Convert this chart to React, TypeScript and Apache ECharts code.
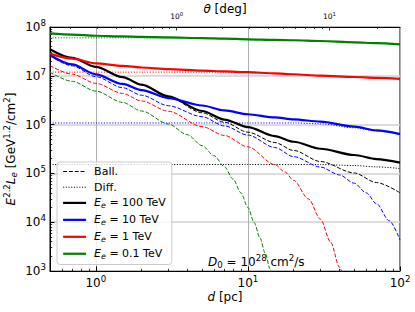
import React, { useEffect, useRef } from "react";
import * as echarts from "echarts";

// ---------- data ----------
// distances d [pc]
const D_PC = [0.5, 0.7, 1, 1.5, 2, 3, 5, 7, 10, 15, 20, 30, 50, 70, 100];

// total (solid lines)
const TOTAL_100TEV = [3.51e7, 2.32e7, 1.53e7, 9.4e6, 6.6e6, 3.8e6, 1.9e6, 1.27e6, 8.9e5, 5.8e5, 4.45e5, 3.2e5, 2.38e5, 1.97e5, 1.66e5];
const TOTAL_10TEV = [2.67e7, 1.71e7, 1.07e7, 6.8e6, 5.1e6, 3.5e6, 2.46e6, 1.95e6, 1.63e6, 1.4e6, 1.28e6, 1.15e6, 9.1e5, 7.6e5, 6.4e5];
const TOTAL_1TEV = [2.85e7, 2.25e7, 1.8e7, 1.6e7, 1.48e7, 1.37e7, 1.28e7, 1.23e7, 1.185e7, 1.125e7, 1.075e7, 1.005e7, 9.45e6, 9.05e6, 8.65e6];
const TOTAL_01TEV = [7.4e7, 7.0e7, 6.62e7, 6.4e7, 6.28e7, 6.12e7, 5.92e7, 5.77e7, 5.6e7, 5.45e7, 5.35e7, 5.17e7, 4.86e7, 4.66e7, 4.42e7];

// diffusive (dotted lines)
const DIFF_100TEV = [1.52e5, 1.52e5, 1.52e5, 1.52e5, 1.52e5, 1.52e5, 1.52e5, 1.52e5, 1.52e5, 1.52e5, 1.52e5, 1.52e5, 1.45e5, 1.36e5, 1.26e5];
const DIFF_10TEV = [1.08e6, 1.08e6, 1.08e6, 1.08e6, 1.08e6, 1.08e6, 1.08e6, 1.08e6, 1.08e6, 1.08e6, 1.08e6, 1.04e6, 8.6e5, 7.4e5, 6.35e5];
const DIFF_1TEV = [1.19e7, 1.19e7, 1.19e7, 1.19e7, 1.19e7, 1.19e7, 1.19e7, 1.19e7, 1.16e7, 1.11e7, 1.065e7, 1.0e7, 9.4e6, 9.0e6, 8.6e6];
const DIFF_01TEV = [6.0e7, 6.0e7, 6.0e7, 6.0e7, 6.0e7, 5.98e7, 5.88e7, 5.75e7, 5.58e7, 5.44e7, 5.34e7, 5.16e7, 4.85e7, 4.65e7, 4.41e7];

// ballistic (dashed lines)
const BALL_100TEV = [3.5e7, 2.3e7, 1.51e7, 9.25e6, 6.45e6, 3.65e6, 1.75e6, 1.12e6, 7.0e5, 4.3e5, 2.95e5, 1.75e5, 1.02e5, 6.5e4, 4.0e4];
const BALL_10TEV_D = [0.5, 0.7, 1, 1.5, 2, 3, 5, 7, 10, 15, 20, 30, 40, 50, 60, 70, 85, 100];
const BALL_10TEV = [2.56e7, 1.6e7, 9.6e6, 5.7e6, 4.0e6, 2.43e6, 1.45e6, 9.4e5, 6.1e5, 3.4e5, 2.2e5, 1.35e5, 9.3e4, 6.3e4, 4.0e4, 2.4e4, 1.07e4, 4.3e3];
const BALL_1TEV_D = [0.5, 0.7, 1, 1.5, 2, 3, 5, 7, 10, 15, 17.5, 20, 25, 30, 35, 40, 45];
const BALL_1TEV = [1.61e7, 1.08e7, 7.0e6, 4.36e6, 3.05e6, 1.88e6, 9.1e5, 6.0e5, 3.5e5, 1.52e5, 1.07e5, 7.2e4, 3.0e4, 1.15e4, 3.9e3, 1.2e3, 3.6e2];
const BALL_01TEV_D = [0.5, 0.7, 1, 1.5, 2, 3, 4, 5, 6, 7, 8, 9, 10, 11, 12, 13, 14, 15];
const BALL_01TEV = [1.18e7, 7.7e6, 4.86e6, 2.85e6, 1.9e6, 1.03e6, 6.2e5, 3.7e5, 2.3e5, 1.38e5, 7.6e4, 4.0e4, 2.0e4, 9.8e3, 4.8e3, 2.3e3, 1.1e3, 5.2e2];

// axis ticks
const X_MAJOR = [1, 10, 100];
const X_MINOR = [0.5, 0.6, 0.7, 0.8, 0.9, 2, 3, 4, 5, 6, 7, 8, 9, 20, 30, 40, 50, 60, 70, 80, 90];
const Y_MINOR_MANT = [2, 3, 4, 5, 6, 7, 8, 9];
const THETA_MAJOR = [1, 10];
const THETA_MINOR = [0.2, 0.3, 0.4, 0.5, 0.6, 0.7, 0.8, 0.9, 2, 3, 4, 5, 6, 7, 8, 9, 20];
const SOURCE_DIST_PC = 195;

const COLORS = { e100: "#000000", e10: "#0000ff", e1: "#ff0000", e01: "#008000" };

// ---------- helpers ----------
const LOG = (v: number) => Math.log10(v);
const X_MIN = LOG(0.5);
const X_MAX = LOG(100);
const FONT = "DejaVu Sans";
const thetaToD = (t: number) => SOURCE_DIST_PC * Math.tan((t * Math.PI) / 180);
const dToTheta = (d: number) => (Math.atan(d / SOURCE_DIST_PC) * 180) / Math.PI;

function richSet(size: number) {
  const s = size * 0.72;
  const base = { fontFamily: FONT, color: "#000" };
  return {
    n: { ...base, fontSize: size },
    nl: { ...base, fontSize: size, padding: [0, 0, 0, 3] },
    i: { ...base, fontSize: size, fontStyle: "italic" },
    il: { ...base, fontSize: size, fontStyle: "italic", padding: [0, 0, 0, 3] },
    sup: { ...base, fontSize: s, padding: [0, 0, size * 0.7, 0] },
    sub: { ...base, fontSize: s, padding: [size * 0.5, 0, 0, 0] },
    subi: { ...base, fontSize: s, fontStyle: "italic", padding: [size * 0.5, 0, 0, 0] },
  };
}

const pts = (xs: number[], ys: number[]) => xs.map((d, i) => [LOG(d), LOG(ys[i])]);

export default function App() {
  const ref = useRef<HTMLDivElement>(null);
  useEffect(() => {
    if (!ref.current) return;
    const chart = echarts.init(ref.current, null, { renderer: "svg" });

    const yMinor: number[] = [];
    for (let e = 3; e < 8; e++) for (const m of Y_MINOR_MANT) yMinor.push(LOG(m * Math.pow(10, e)));

    const tickRich = richSet(12);
    const topRich = richSet(7.5);
    const legRich = richSet(11);

    const energies = [
      { key: "E100", label: "100", color: COLORS.e100, total: pts(D_PC, TOTAL_100TEV), diff: pts(D_PC, DIFF_100TEV), ball: pts(D_PC, BALL_100TEV) },
      { key: "E10", label: "10", color: COLORS.e10, total: pts(D_PC, TOTAL_10TEV), diff: pts(D_PC, DIFF_10TEV), ball: pts(BALL_10TEV_D, BALL_10TEV) },
      { key: "E1", label: "1", color: COLORS.e1, total: pts(D_PC, TOTAL_1TEV), diff: pts(D_PC, DIFF_1TEV), ball: pts(BALL_1TEV_D, BALL_1TEV) },
      { key: "E01", label: "0.1", color: COLORS.e01, total: pts(D_PC, TOTAL_01TEV), diff: pts(D_PC, DIFF_01TEV), ball: pts(BALL_01TEV_D, BALL_01TEV) },
    ];

    const DASH = [4, 1.8];
    const DOT = [1.1, 1.6];
    const series: any[] = [
      { type: "line", name: "Ball.", data: [], symbol: "none", color: "#000", lineStyle: { color: "#000", width: 1, type: DASH } },
      { type: "line", name: "Diff.", data: [], symbol: "none", color: "#000", lineStyle: { color: "#000", width: 1, type: DOT } },
    ];
    energies.forEach((e) => {
      series.push({ type: "line", name: e.key + "-ball", data: e.ball, symbol: "none", smooth: 0.3, smoothMonotone: "x", color: e.color, lineStyle: { color: e.color, width: 1, type: DASH }, z: 2 });
      series.push({ type: "line", name: e.key + "-diff", data: e.diff, symbol: "none", smooth: 0.3, smoothMonotone: "x", color: e.color, lineStyle: { color: e.color, width: 1, type: DOT }, z: 2 });
    });
    energies.forEach((e) => {
      series.push({ type: "line", name: e.key, data: e.total, symbol: "none", smooth: 0.3, smoothMonotone: "x", color: e.color, lineStyle: { color: e.color, width: 2.2 }, z: 3 });
    });

    const legendNames: Record<string, string> = { "Ball.": "{nl|Ball.}", "Diff.": "{nl|Diff.}" };
    energies.forEach((e) => {
      legendNames[e.key] = `{il|E}{subi|e}{n| = ${e.label} TeV}`;
    });

    const thetaMajD = THETA_MAJOR.map((t) => LOG(thetaToD(t)));
    const thetaMinD = THETA_MINOR.map((t) => LOG(thetaToD(t)));
    const noZero = { onZero: false };

    const option: any = {
      animation: false,
      grid: { left: 50, right: 15, top: 27, bottom: 41, show: true, borderColor: "#000", borderWidth: 1, backgroundColor: "transparent" },
      xAxis: [
        {
          type: "value", position: "bottom", min: X_MIN, max: X_MAX,
          axisLine: { show: true, ...noZero, lineStyle: { color: "#000", width: 1 } },
          axisTick: { show: true, inside: true, length: 4.5, lineStyle: { color: "#000", width: 1 }, customValues: X_MAJOR.map(LOG) },
          axisLabel: { show: true, margin: 3, customValues: X_MAJOR.map(LOG), formatter: (v: number) => `{n|10}{sup|${Math.round(v)}}`, rich: tickRich },
          splitLine: { show: true, lineStyle: { color: "#b0b0b0", width: 1 } },
        },
        {
          type: "value", position: "bottom", min: X_MIN, max: X_MAX,
          axisLine: { show: false, ...noZero },
          axisTick: { show: true, inside: true, length: 2.2, lineStyle: { color: "#000", width: 0.8 }, customValues: X_MINOR.map(LOG) },
          axisLabel: { show: false },
          splitLine: { show: false },
        },
        {
          type: "value", position: "top", min: X_MIN, max: X_MAX,
          axisLine: { show: true, ...noZero, lineStyle: { color: "#000", width: 1 } },
          axisTick: { show: true, inside: true, length: 3.5, lineStyle: { color: "#000", width: 0.8 }, customValues: thetaMajD },
          axisLabel: {
            show: true, margin: 5, customValues: thetaMajD,
            formatter: (v: number) => `{n|10}{sup|${Math.round(LOG(dToTheta(Math.pow(10, v))))}}`,
            rich: topRich,
          },
          splitLine: { show: false },
        },
        {
          type: "value", position: "top", min: X_MIN, max: X_MAX,
          axisLine: { show: false, ...noZero },
          axisTick: { show: true, inside: true, length: 2, lineStyle: { color: "#000", width: 0.7 }, customValues: thetaMinD },
          axisLabel: { show: false },
          splitLine: { show: false },
        },
      ],
      yAxis: [
        {
          type: "value", position: "left", min: 3, max: 8, interval: 1,
          axisLine: { show: true, ...noZero, lineStyle: { color: "#000", width: 1 } },
          axisTick: { show: true, inside: true, length: 4.5, lineStyle: { color: "#000", width: 1 } },
          axisLabel: { show: true, margin: 4, formatter: (v: number) => `{n|10}{sup|${Math.round(v)}}`, rich: tickRich },
          splitLine: { show: true, lineStyle: { color: "#d0d0d0", width: 1.5 } },
        },
        {
          type: "value", position: "left", min: 3, max: 8,
          axisLine: { show: false, ...noZero },
          axisTick: { show: true, inside: true, length: 2.2, lineStyle: { color: "#000", width: 0.8 }, customValues: yMinor },
          axisLabel: { show: false },
          splitLine: { show: false },
        },
      ],
      legend: {
        show: true, orient: "vertical", left: 57, top: 162,
        data: ["Ball.", "Diff.", "E100", "E10", "E1", "E01"],
        itemWidth: 23, itemHeight: 13, itemGap: 4.7,
        padding: [4, 6, 4, 5],
        backgroundColor: "rgba(255,255,255,0.8)", borderColor: "#cccccc", borderWidth: 1, borderRadius: 3,
        selectedMode: false,
        lineStyle: { width: "inherit" },
        itemStyle: { opacity: 0 },
        formatter: (name: string) => legendNames[name] || name,
        textStyle: { fontFamily: FONT, fontSize: 11, color: "#000", rich: legRich },
      },
      graphic: [
        {
          type: "text", x: 11, y: 149, rotation: Math.PI / 2,
          style: { text: "{i|E}{sup|2.2}{i|L}{subi|e}{n| [GeV}{sup|1.2}{n|/cm}{sup|2}{n|]}", rich: richSet(12), align: "center", verticalAlign: "middle", textAlign: "center", textVerticalAlign: "middle" },
        },
        {
          type: "text", x: 225, y: 297,
          style: { text: "{i|d}{n| [pc]}", rich: richSet(12), align: "center", verticalAlign: "middle", textAlign: "center", textVerticalAlign: "middle" },
        },
        {
          type: "text", x: 225, y: 9,
          style: { text: "{i|θ}{n| [deg]}", rich: richSet(12), align: "center", verticalAlign: "middle", textAlign: "center", textVerticalAlign: "middle" },
        },
        {
          type: "text", x: 208, y: 262,
          style: { text: "{i|D}{sub|0}{n| = 10}{sup|28}{n| cm}{sup|2}{n|/s}", rich: richSet(12), align: "left", verticalAlign: "middle", textAlign: "left", textVerticalAlign: "middle" },
        },
      ],
      series: series.map((s) => ({ ...s, xAxisIndex: 0, yAxisIndex: 0 })),
    };
    chart.setOption(option);
    return () => chart.dispose();
  }, []);
  return <div ref={ref} style={{ position: "fixed", left: 0, top: 0, width: 415, height: 312, background: "#fff" }} />;
}
